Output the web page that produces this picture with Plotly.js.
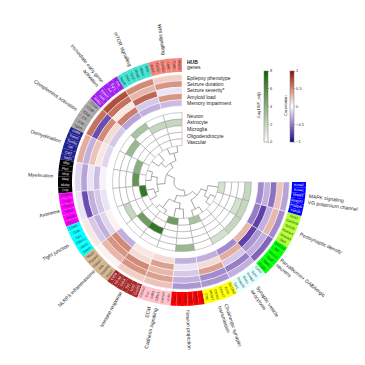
<!DOCTYPE html>
<html><head><meta charset="utf-8">
<script src="https://cdn.plot.ly/plotly-3.0.1.min.js"></script>
<style>html,body{margin:0;padding:0;background:#fff;}#chart{width:365px;height:365px;}</style>
</head><body><div id="chart"></div>
<script>
// ---------------- DATA ----------------
const moduleLabels = ["Wnt signalling","mTOR signalling","Immediate early gene<br>activation","Complement activation","Demyelination","Myelination","Axoneme","Tight junction","NLRP3 inflammasome","Immune response","ECM<br>Cadherin signaling","Neuron projection","Cholinergic synaptic<br>transmission","Synaptic vesicle<br>exocytosis","Parvalbumin+ GABAergic<br>neurons","Postsynaptic density","MAPK signaling<br>VG potassium channel"];
const moduleColors = ["#F4847A","#40E0D0","#A020F0","#A6A6A6","#22228E","#000000","#FF00FF","#00FFFF","#D2B48C","#A52A2A","#FFC0CB","#FF0000","#FFFF00","#E0FFFF","#00FF00","#ADFF2F","#0000FF"];
const darkModules = [2,4,5,9,16];
const genes = [
  ["Wnt7b","Fzd1","Lrp6","Ctnnb1","Tcf7l2","Axin2"],
  ["Mtor","Rptor","Rheb","Tsc2","Akt1","Rps6"],
  ["Fos","Egr1","Arc","Npas4","Junb","Nr4a1"],
  ["C1qa","C1qb","C1qc","C3","C4b","Itgam"],
  ["Cd68","Trem2","Tyrobp","Lpl","Cst7","Spp1"],
  ["Mbp","Plp1","Mog","Mag","Mobp","Cnp"],
  ["Dnah5","Foxj1","Rsph1","Tekt1","Spag6","Dnai1"],
  ["Cldn5","Ocln","Tjp1","Cldn11","Jam2","Esam"],
  ["Nlrp3","Pycard","Casp1","Il1b","Gsdmd","P2rx7"],
  ["Cd74","H2-Aa","Cd14","Tlr2","Lcn2","Cxcl10"],
  ["Col1a2","Fn1","Cdh2","Cdh11","Lama4","Vcan"],
  ["Nefl","Nefm","Map2","Tubb3","Gap43","Stmn2"],
  ["Chat","Slc5a7","Chrm1","Chrna7","Ache","Slc18a3"],
  ["Syt1","Snap25","Stx1a","Vamp2","Syn1","Cplx1"],
  ["Pvalb","Gad1","Gad2","Kcnc1","Sst","Slc32a1"],
  ["Dlg4","Shank3","Homer1","Grin2b","Camk2a","Gria1"],
  ["Ywhah","Pla2g4e","Rasgrf1","Mapk3","Kcna1","Kcnq2"]
];
const traits = ["Epilepsy phenotype","Seizure duration","Seizure severity*","Amyloid load","Memory impairment"];
const cellTypes = ["Neuron","Astrocyte","Microglia","Oligodendrocyte","Vascular"];
// correlation per module: [Epilepsy, Sz duration, Sz severity, Amyloid, Memory]
const traitCorr = [
  [0.2,0.45,-0.1,0.45,-0.25],
  [0.5,0.3,0.65,-0.2,-0.3],
  [0.75,0.6,0.1,0.55,-0.35],
  [0.6,-0.7,0.5,0.15,-0.2],
  [0.35,-0.3,0.25,0.1,-0.15],
  [-0.15,-0.35,-0.1,-0.25,-0.05],
  [-0.1,-0.7,-0.3,-0.2,-0.1],
  [0.1,-0.2,-0.3,-0.15,0.05],
  [0.05,0.3,0.45,0.5,-0.3],
  [0.2,0.45,0.5,0.15,0.1],
  [0.25,0.4,0.3,0.4,0.15],
  [-0.4,-0.3,-0.2,-0.1,-0.3],
  [-0.4,-0.45,0.4,0.15,-0.3],
  [-0.3,-0.5,-0.2,0.35,-0.45],
  [-0.6,-0.3,-0.4,-0.75,0.3],
  [-0.45,0.3,-0.3,-0.75,-0.5],
  [-0.35,0.25,-0.55,-0.3,-0.45]
];
// -log10(P_adj) per module: [Neuron, Astrocyte, Microglia, Oligodendrocyte, Vascular]
const cellP = [
  [0,2,0,0,0],
  [0,2,0,0,0],
  [3,0,0,0,0],
  [0,3.5,0,0,0],
  [0,0,0,4,0],
  [0,0,0,5.5,0],
  [0,0,0,0,7],
  [0,2,0,0,0],
  [0,0,5,0,0],
  [0,0,7,0,0],
  [0,0,0,0,5],
  [3.5,0,0,0,0],
  [0,0,0,0,3],
  [1.5,0,0,0,0],
  [2,0,0,0,0],
  [2,1.5,0,0,0],
  [2,0,0,0,1.5]
];
// dendrogram merges: [childA, childB, merge radius]; new nodes numbered from 17
const dendroMerges = [[0,1,30],[2,3,28],[17,18,22],[4,5,31],[6,7,29],[20,21,25],[19,22,17],[8,9,32],[10,11,27],[24,25,21],[12,13,30],[14,15,31],[28,16,26],[27,29,20],[26,30,14],[23,31,8]];
const corrTicks = [-1,-0.5,0,0.5,1];
const pTicks = [0,2,4,6,8];

// ---------------- GEOMETRY / STYLE ----------------
const W = 365, CX = 182, CY = 182, RMAX = 128;
const START = 90, SPAN = 270;
const GENE_IN = 110, GENE_W = 14;
const TRAIT_OUT = 107.5, TRAIT_W = 6.3;
const CELL_OUT = 69.5, CELL_W = 6.6;
const CELL_IN = CELL_OUT - 5*CELL_W;
const FONT = "Arial, 'Liberation Sans', sans-serif";

// LAB interpolation for color scales
function hex2rgb(h){h=h.replace('#','');return [0,2,4].map(i=>parseInt(h.substr(i,2),16)/255);}
function lin(c){return c<=0.04045?c/12.92:Math.pow((c+0.055)/1.055,2.4);}
function delin(c){return c<=0.0031308?12.92*c:1.055*Math.pow(c,1/2.4)-0.055;}
function rgb2lab(rgb){const [r,g,b]=rgb.map(lin);
  let X=(0.4124*r+0.3576*g+0.1805*b)/0.95047,Y=(0.2126*r+0.7152*g+0.0722*b),Z=(0.0193*r+0.1192*g+0.9505*b)/1.08883;
  const f=t=>t>0.008856?Math.cbrt(t):7.787*t+16/116;
  const fx=f(X),fy=f(Y),fz=f(Z);return [116*fy-16,500*(fx-fy),200*(fy-fz)];}
function lab2hex(lab){const fy=(lab[0]+16)/116,fx=fy+lab[1]/500,fz=fy-lab[2]/200;
  const fi=t=>t>0.206893?t*t*t:(t-16/116)/7.787;
  const X=fi(fx)*0.95047,Y=fi(fy),Z=fi(fz)*1.08883;
  let r=3.2406*X-1.5372*Y-0.4986*Z,g=-0.9689*X+1.8758*Y+0.0415*Z,b=0.0557*X-0.2040*Y+1.0570*Z;
  return 'rgb('+[r,g,b].map(c=>Math.round(255*Math.min(1,Math.max(0,delin(c))))).join(',')+')';}
function mix(a,b,t){const A=rgb2lab(hex2rgb(a)),B=rgb2lab(hex2rgb(b));return lab2hex(A.map((v,i)=>v+(B[i]-v)*t));}
const corrScale=[];for(let i=0;i<=20;i++){const v=-1+i*0.1;corrScale.push([i/20, v<0?mix('#FFFFFF','#00008B',-v):mix('#FFFFFF','#8B0000',v)]);}
const pScale=[];for(let i=0;i<=10;i++){pScale.push([i/10,mix('#FFFFFF','#006400',i/10)]);}

// ---------------- DERIVED ----------------
const geneList=[];genes.forEach((g,m)=>g.forEach(n=>geneList.push({name:n,m:m})));
const nGene=geneList.length, gw=SPAN/nGene;
const geneTheta=geneList.map((g,i)=>START+(i+0.5)*gw);
const modStart=[],modWidth=[];let kk=0;
genes.forEach(g=>{modStart.push(START+kk*gw);modWidth.push(g.length*gw);kk+=g.length;});
const modTheta=modStart.map((s,m)=>s+modWidth[m]/2);

const traces=[];
traces.push({type:'barpolar',theta:geneTheta,r:geneList.map(()=>GENE_W),base:GENE_IN,width:gw,
  marker:{color:geneList.map(g=>moduleColors[g.m]),line:{width:0}},hoverinfo:'skip',showlegend:false});

// trait heatmap
{const th=[],r=[],b=[],w=[],c=[];
 traitCorr.forEach((row,m)=>row.forEach((v,t)=>{th.push(modTheta[m]);w.push(modWidth[m]);b.push(TRAIT_OUT-(t+1)*TRAIT_W);r.push(TRAIT_W);c.push(v);}));
 traces.push({type:'barpolar',theta:th,r:r,base:b,width:w,hoverinfo:'skip',showlegend:false,
  marker:{color:c,colorscale:corrScale,cmin:-1,cmax:1,line:{color:'#ffffff',width:0.5},showscale:true,
   colorbar:{x:290/W,xanchor:'left',y:1-71/W,yanchor:'top',len:71,lenmode:'pixels',thickness:4,thicknessmode:'pixels',
    outlinewidth:0.5,outlinecolor:'#777',tickvals:corrTicks,ticks:'outside',ticklen:1.5,tickwidth:0.5,tickcolor:'#555',
    tickfont:{size:4,family:FONT,color:'#333'},xpad:0,ypad:0}}});}

// cell type heatmap
{const th=[],r=[],b=[],w=[],c=[];
 cellP.forEach((row,m)=>row.forEach((v,t)=>{th.push(modTheta[m]);w.push(modWidth[m]);b.push(CELL_OUT-(t+1)*CELL_W);r.push(CELL_W);c.push(v);}));
 traces.push({type:'barpolar',theta:th,r:r,base:b,width:w,hoverinfo:'skip',showlegend:false,
  marker:{color:c,colorscale:pScale,cmin:0,cmax:8,line:{color:'#9a9a9a',width:0.5},showscale:true,
   colorbar:{x:264/W,xanchor:'left',y:1-71/W,yanchor:'top',len:71,lenmode:'pixels',thickness:4,thicknessmode:'pixels',
    outlinewidth:0.5,outlinecolor:'#777',tickvals:pTicks,ticks:'outside',ticklen:1.5,tickwidth:0.5,tickcolor:'#555',
    tickfont:{size:4,family:FONT,color:'#333'},xpad:0,ypad:0}}});}

// dendrogram
{const nth=modTheta.slice(),nr=modTheta.map(()=>CELL_IN);const R=[],T=[];
 dendroMerges.forEach(([a,b,h])=>{
   R.push(nr[a],h);T.push(nth[a],nth[a]);
   const steps=Math.max(2,Math.ceil(Math.abs(nth[b]-nth[a])));
   for(let s=1;s<=steps;s++){R.push(h);T.push(nth[a]+(nth[b]-nth[a])*s/steps);}
   R.push(nr[b]);T.push(nth[b]);R.push(null);T.push(null);
   nth.push((nth[a]+nth[b])/2);nr.push(h);});
 traces.push({type:'scatterpolar',mode:'lines',r:R,theta:T,line:{color:'#7a7a7a',width:0.7},connectgaps:false,hoverinfo:'skip',showlegend:false});}

// ---------------- ANNOTATIONS ----------------
const ann=[];
function px(r,th){return (CX+r*Math.cos(th*Math.PI/180))/W;}
function py(r,th){return (W-CY+r*Math.sin(th*Math.PI/180))/W;}
function norm(a){a=((a%360)+360)%360;return a>180?a-360:a;}
function flipped(th){const a=((th%360)+360)%360;return a>90&&a<270;}
// gene labels
geneList.forEach((g,i)=>{const th=geneTheta[i];const ta=flipped(th)?norm(180-th):norm(-th);
  ann.push({x:px(GENE_IN+GENE_W/2,th),y:py(GENE_IN+GENE_W/2,th),xref:'paper',yref:'paper',text:g.name,showarrow:false,
   textangle:ta,xanchor:'center',yanchor:'middle',font:{size:3.4,family:FONT,color:darkModules.includes(g.m)?'#ffffff':'#333333'}});});
// module labels
moduleLabels.forEach((lab,m)=>{const th=modTheta[m];const fl=flipped(th);const ta=fl?norm(180-th):norm(-th);
  const fs=5;const maxLen=Math.max(...lab.split('<br>').map(s=>s.length));const L=maxLen*fs*0.5;
  const rc=GENE_IN+GENE_W+3+L/2;
  ann.push({x:px(rc,th),y:py(rc,th),xref:'paper',yref:'paper',text:lab,showarrow:false,textangle:ta,align:fl?'right':'left',
   xanchor:'center',yanchor:'middle',font:{size:fs,family:FONT,color:'#222'}});});
// ring legend labels
const LX=185/W;
ann.push({x:LX,y:(W-CY+GENE_IN+GENE_W/2+2.7)/W,xref:'paper',yref:'paper',text:'<b>HUB</b>',showarrow:false,xanchor:'left',yanchor:'middle',font:{size:5,family:FONT,color:'#111'}});
ann.push({x:LX,y:(W-CY+GENE_IN+GENE_W/2-2.3)/W,xref:'paper',yref:'paper',text:'genes',showarrow:false,xanchor:'left',yanchor:'middle',font:{size:5,family:FONT,color:'#222'}});
traits.forEach((t,i)=>{const rm=TRAIT_OUT-(i+0.5)*TRAIT_W;
  ann.push({x:LX,y:(W-CY+rm)/W,xref:'paper',yref:'paper',text:t,showarrow:false,xanchor:'left',yanchor:'middle',font:{size:5,family:FONT,color:'#222'}});});
cellTypes.forEach((t,i)=>{const rm=CELL_OUT-(i+0.5)*CELL_W;
  ann.push({x:LX,y:(W-CY+rm)/W,xref:'paper',yref:'paper',text:t,showarrow:false,xanchor:'left',yanchor:'middle',font:{size:5,family:FONT,color:'#222'}});});
// colorbar titles
ann.push({x:259/W,y:1-106/W,xref:'paper',yref:'paper',text:'-Log10(P_adj)',textangle:-90,showarrow:false,xanchor:'center',yanchor:'middle',font:{size:4.2,family:FONT,color:'#222'}});
ann.push({x:286/W,y:1-106/W,xref:'paper',yref:'paper',text:'Correlation',textangle:-90,showarrow:false,xanchor:'center',yanchor:'middle',font:{size:4.2,family:FONT,color:'#222'}});

const layout={width:W,height:W,margin:{l:0,r:0,t:0,b:0},paper_bgcolor:'#fff',font:{family:FONT},showlegend:false,
  polar:{domain:{x:[(CX-RMAX)/W,(CX+RMAX)/W],y:[(W-CY-RMAX)/W,(W-CY+RMAX)/W]},bgcolor:'rgba(0,0,0,0)',
    radialaxis:{range:[0,RMAX],visible:false},
    angularaxis:{visible:false,rotation:0,direction:'counterclockwise'},barmode:'overlay'},
  annotations:ann};
Plotly.newPlot('chart',traces,layout,{staticPlot:true,displayModeBar:false});
</script></body></html>
